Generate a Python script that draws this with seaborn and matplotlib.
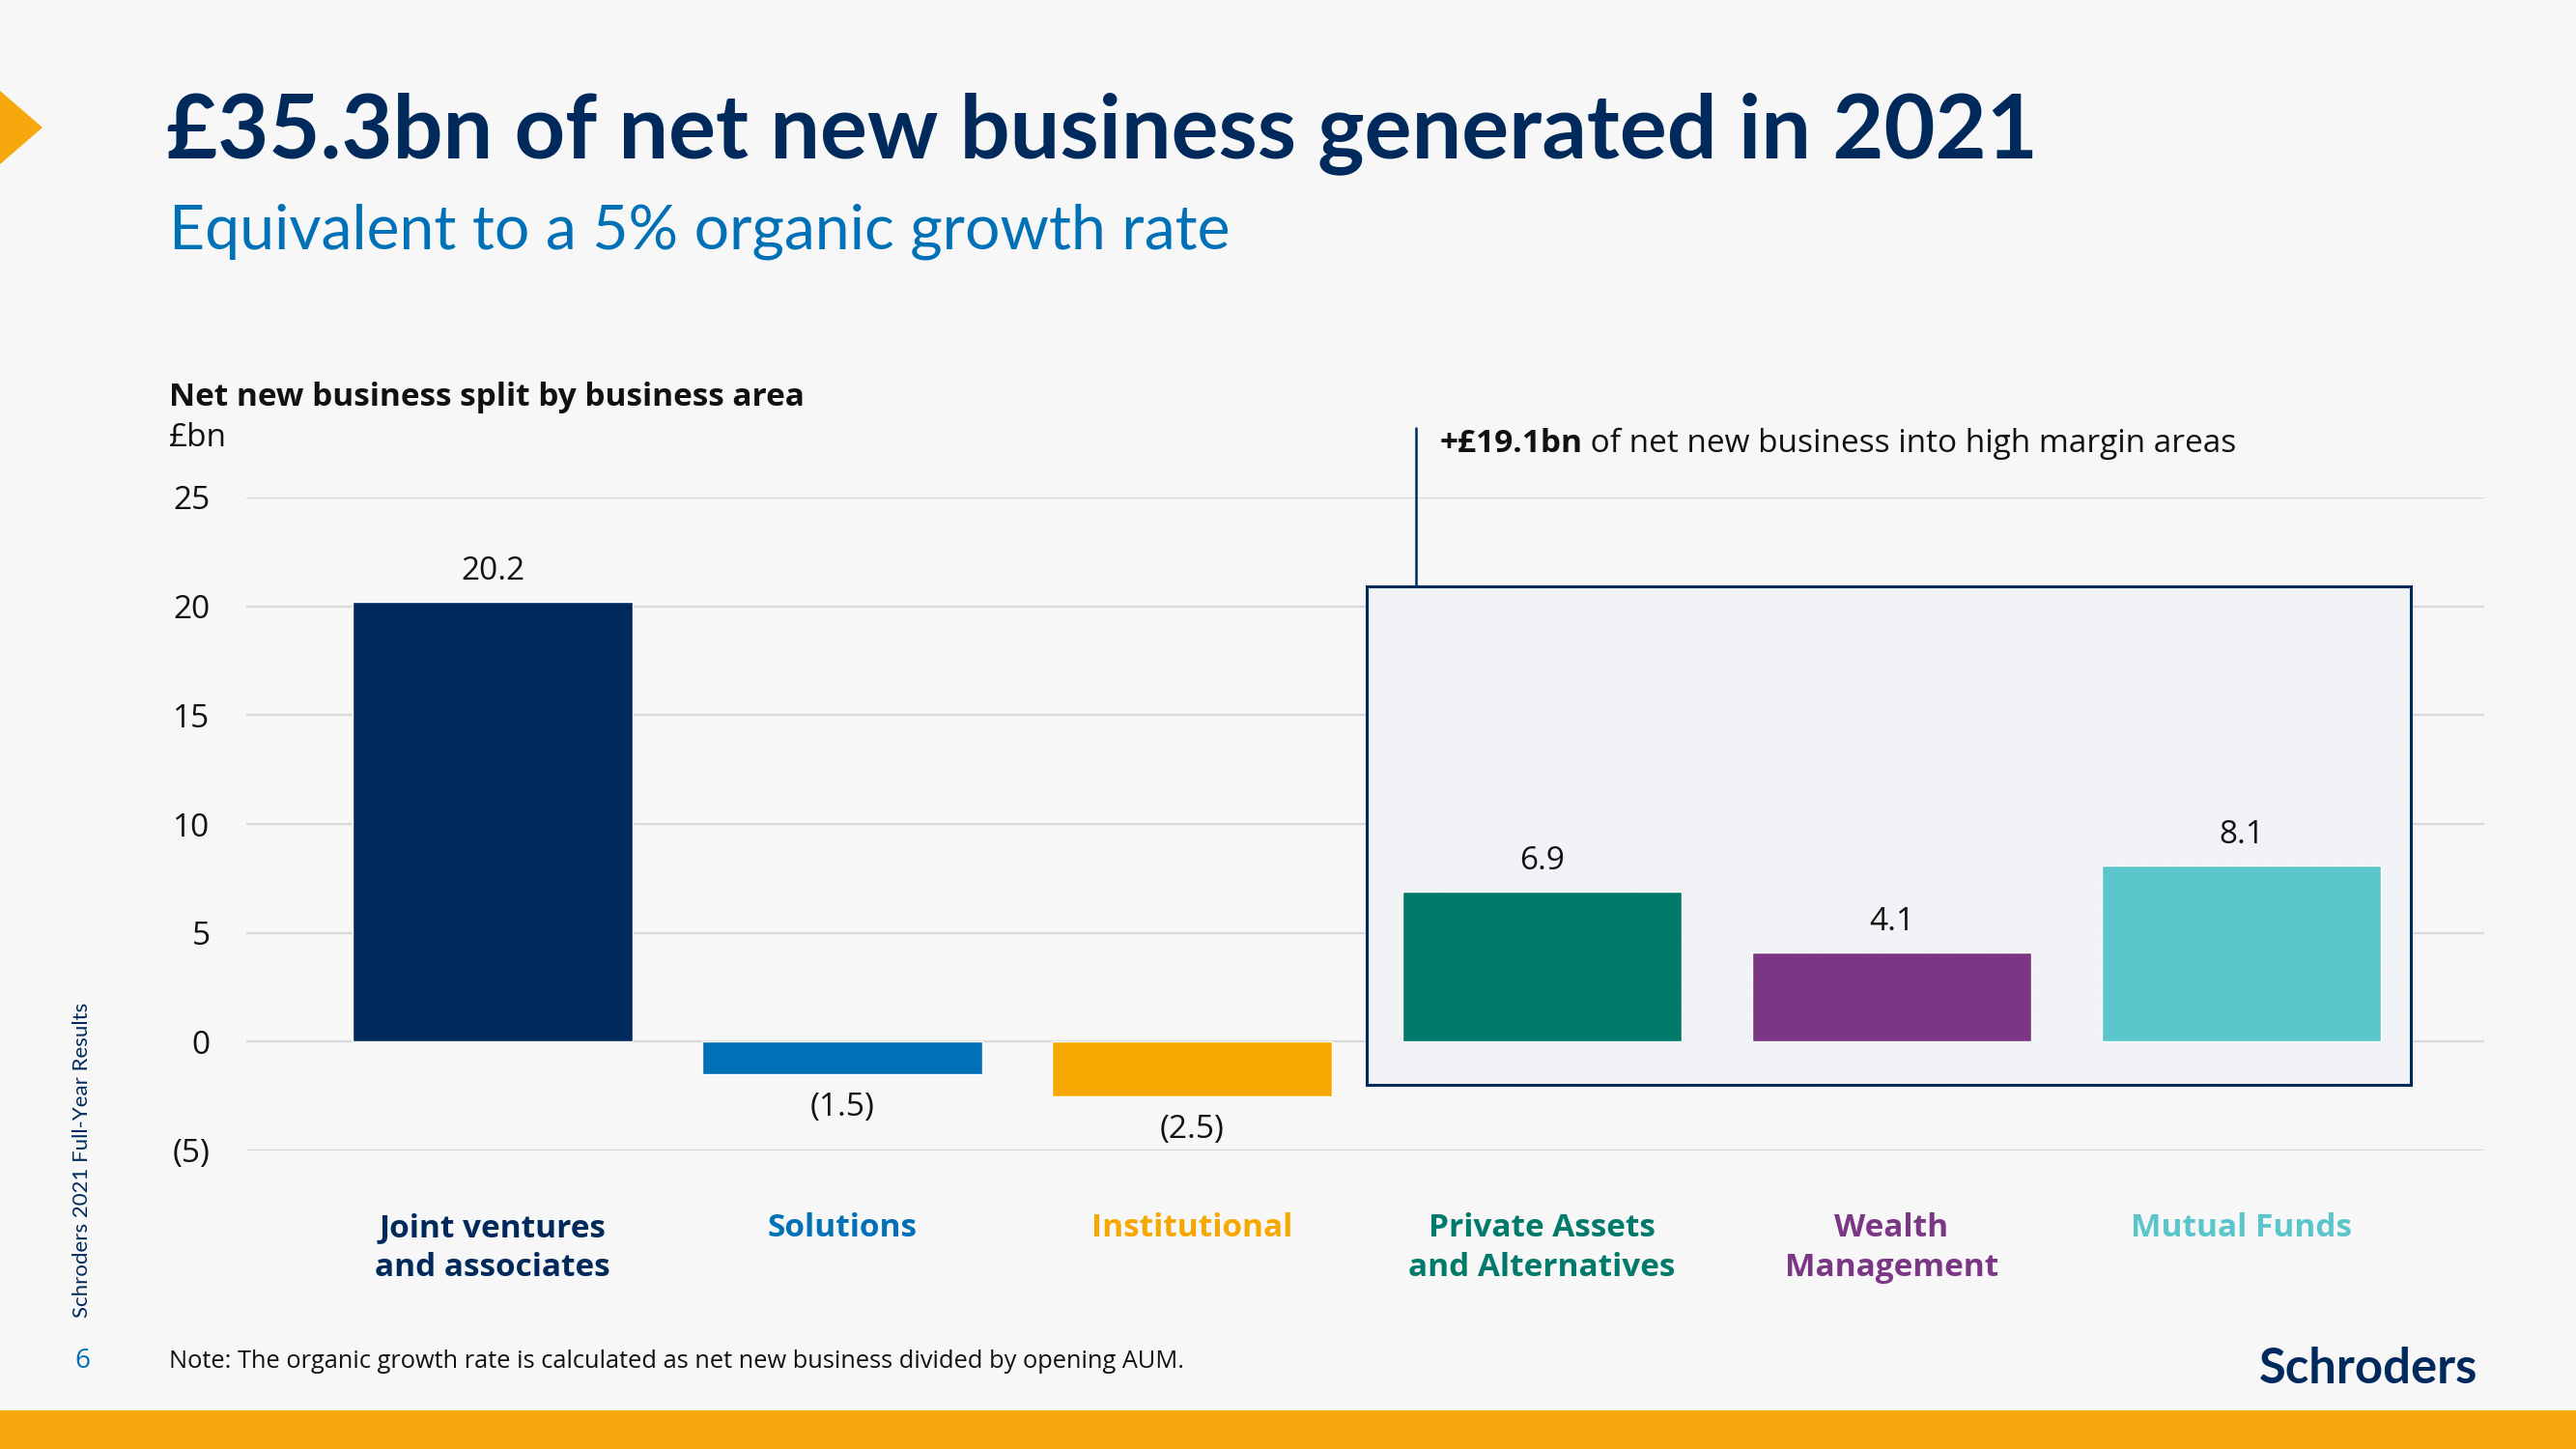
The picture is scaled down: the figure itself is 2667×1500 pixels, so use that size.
import matplotlib
matplotlib.use('Agg')
import matplotlib.pyplot as plt
import matplotlib.patches as mpatches
import seaborn as sns

# data
categories = ['Joint ventures\nand associates', 'Solutions', 'Institutional',
              'Private Assets\nand Alternatives', 'Wealth\nManagement', 'Mutual Funds']
values = [20.2, -1.5, -2.5, 6.9, 4.1, 8.1]
colors = ['#002a5c', '#0071b7', '#f6a800', '#007a6b', '#7b3786', '#5bc5cc']
yticks = [-5, 0, 5, 10, 15, 20, 25]

NAVY = '#002a5c'
BG = '#f7f7f7'
W, H = 2667, 1500

sns.set_theme(style='white')
plt.rcParams['font.family'] = ['Open Sans', 'DejaVu Sans']
plt.rcParams['hatch.linewidth'] = 0.9

fig = plt.figure(figsize=(W / 100, H / 100), dpi=100, facecolor=BG)


def fx(px):
    return px / W


def fy(py):
    return 1 - py / H


ax = fig.add_axes([fx(255), fy(1191), fx(2572) - fx(255), fy(515) - fy(1191)])
ax.set_facecolor('none')

df = {'cat': categories, 'val': values}
sns.barplot(x='cat', y='val', data=df, hue='cat', palette=colors, legend=False,
            width=0.8, saturation=1, ax=ax, zorder=3)

ax.set_xlim(-0.705, 5.695)
ax.set_ylim(-5, 25)
ax.set_yticks(yticks)
ax.set_yticklabels([f'({abs(t)})' if t < 0 else str(t) for t in yticks])
ax.yaxis.grid(True, color='#d9d9d9', lw=1.6, zorder=0)
ax.set_axisbelow(True)
for s in ax.spines.values():
    s.set_visible(False)
ax.tick_params(axis='y', length=0, pad=27, labelsize=24, labelcolor='#111111')
ax.tick_params(axis='x', length=0, pad=46)
ax.set_xlabel('')
ax.set_ylabel('')
for lab, c in zip(ax.get_xticklabels(), colors):
    lab.set_color(c)
    lab.set_fontweight('bold')
    lab.set_fontsize(24)
    lab.set_linespacing(1.32)

# value labels
for i, v in enumerate(values):
    txt = f'({abs(v)})' if v < 0 else f'{v}'
    if v >= 0:
        ax.annotate(txt, (i, v), xytext=(0, 11), textcoords='offset points',
                    ha='center', va='bottom', fontsize=24, color='#111111')
    else:
        ax.annotate(txt, (i, v), xytext=(0, -13), textcoords='offset points',
                    ha='center', va='top', fontsize=24, color='#111111')

# highlighted box for high margin areas
ax.add_patch(mpatches.Rectangle((2.5, -1.98), 2.985, 22.88, facecolor='#fbfbfc',
                                edgecolor='#eceff3', hatch='/' * 12, lw=0, zorder=1))
ax.add_patch(mpatches.Rectangle((2.5, -1.98), 2.985, 22.88, facecolor='none',
                                edgecolor=NAVY, lw=2.2, zorder=4))
ax.plot([2.64, 2.64], [20.9, 28.2], color=NAVY, lw=1.8, clip_on=False, zorder=4)
t1 = ax.text(2.707, 27.45, '+£19.1bn', fontsize=24, fontweight='bold', color='#111111',
             va='center', ha='left', clip_on=False)
ax.annotate(' of net new business into high margin areas', (1, 0.5), xycoords=t1,
            fontsize=24, color='#111111', va='center', ha='left')

# titles
fig.text(fx(172), fy(138), '£35.3bn of net new business generated in 2021',
         fontsize=66, fontweight='bold', color=NAVY, family='Lato', va='center')
fig.text(fx(175), fy(240), 'Equivalent to a 5% organic growth rate',
         fontsize=46.3, color='#0071b7', family='Lato', va='center')
fig.text(fx(175), fy(412), 'Net new business split by business area',
         fontsize=24, fontweight='bold', color='#111111', va='center')
fig.text(fx(175), fy(453), '£bn', fontsize=24, color='#111111', va='center')

# footer
fig.text(fx(175), fy(1409), 'Note: The organic growth rate is calculated as net new business divided by opening AUM.',
         fontsize=18.3, color='#111111', va='center')
fig.text(fx(85), fy(1409), '6', fontsize=20, color='#0071b7', va='center', ha='center')
fig.text(fx(85), fy(1201), 'Schroders 2021 Full-Year Results', fontsize=16, color=NAVY,
         family='Lato', rotation=90, va='center', ha='center')
fig.text(fx(2565), fy(1417), 'Schroders', fontsize=36.5, fontweight='bold', color=NAVY,
         family='Lato', va='center', ha='right')

# decorations
fig.patches.append(mpatches.Rectangle((0, 0), 1, fy(1460), transform=fig.transFigure,
                                      facecolor='#f6a80c', edgecolor='none'))
fig.patches.append(mpatches.Polygon([[0, fy(94)], [fx(44), fy(132)], [0, fy(170)]],
                                    closed=True, transform=fig.transFigure,
                                    facecolor='#f6a80c', edgecolor='none'))

fig.savefig('out.png', dpi=100, facecolor=BG)
